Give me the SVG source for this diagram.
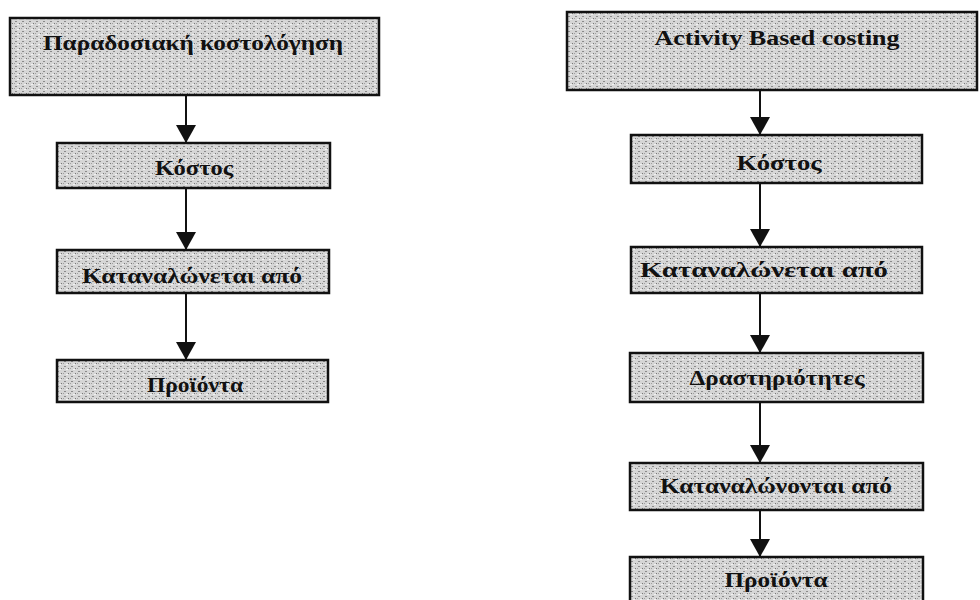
<svg xmlns="http://www.w3.org/2000/svg" width="980" height="600" viewBox="0 0 980 600">
<style>
.box{fill:url(#stip);stroke:#111;stroke-width:2.5}
.lbl{font-family:"Liberation Serif","Noto Serif",serif;font-size:21px;font-weight:bold;fill:#111;text-anchor:middle}
.con{stroke:#111;stroke-width:2;fill:none;marker-end:url(#ah)}
</style>
<defs>
<pattern id="stip" width="7" height="5" patternUnits="userSpaceOnUse">
<rect width="7" height="5" fill="#d6d6d6"/>
<rect x="1" y="1" width="2" height="1" fill="#8a8a8a"/>
<rect x="5" y="3" width="1" height="1" fill="#777"/>
<rect x="3" y="4" width="2" height="1" fill="#f2f2f2"/>
<rect x="0" y="3" width="1" height="1" fill="#a0a0a0"/>
</pattern>
<marker id="ah" markerWidth="10" markerHeight="9" refX="10" refY="4.5" orient="auto" markerUnits="userSpaceOnUse" viewBox="0 0 10 9">
<path d="M0,0 L10,4.5 L0,9 Z" fill="#111"/>
</marker>
<marker id="ahL" markerWidth="18" markerHeight="20" refX="18" refY="10" orient="auto" markerUnits="userSpaceOnUse" viewBox="0 0 18 20">
<path d="M0,0 L18,10 L0,20 Z" fill="#111"/>
</marker>
</defs>
<g id="connectors">
<line class="con" style="marker-end:url(#ahL)" x1="186" y1="95" x2="186" y2="143"/>
<line class="con" style="marker-end:url(#ahL)" x1="186" y1="188" x2="186" y2="250"/>
<line class="con" style="marker-end:url(#ahL)" x1="186" y1="293" x2="186" y2="360"/>
<line class="con" style="marker-end:url(#ahL)" x1="760" y1="90" x2="760" y2="135"/>
<line class="con" style="marker-end:url(#ahL)" x1="760" y1="183" x2="760" y2="247"/>
<line class="con" style="marker-end:url(#ahL)" x1="760" y1="293" x2="760" y2="353"/>
<line class="con" style="marker-end:url(#ahL)" x1="760" y1="402" x2="760" y2="463"/>
<line class="con" style="marker-end:url(#ahL)" x1="760" y1="510" x2="760" y2="557"/>
</g>
<g id="l1"><rect class="box" x="10" y="18" width="369" height="77"/><text class="lbl" x="193" y="50" textLength="300" lengthAdjust="spacingAndGlyphs">Παραδοσιακή κοστολόγηση</text></g>
<g id="l2"><rect class="box" x="57" y="143" width="273" height="45"/><text class="lbl" x="194" y="175" textLength="78" lengthAdjust="spacingAndGlyphs">Κόστος</text></g>
<g id="l3"><rect class="box" x="57" y="250" width="272" height="43"/><text class="lbl" x="192" y="283" textLength="220" lengthAdjust="spacingAndGlyphs">Καταναλώνεται από</text></g>
<g id="l4"><rect class="box" x="57" y="360" width="271" height="42"/><text class="lbl" x="195" y="392" textLength="96" lengthAdjust="spacingAndGlyphs">Προϊόντα</text></g>
<g id="r1"><rect class="box" x="567" y="12" width="410" height="78"/><text class="lbl" x="777" y="45" textLength="245" lengthAdjust="spacingAndGlyphs">Activity Based costing</text></g>
<g id="r2"><rect class="box" x="631" y="135" width="291" height="48"/><text class="lbl" x="779" y="170" textLength="85" lengthAdjust="spacingAndGlyphs">Κόστος</text></g>
<g id="r3"><rect class="box" x="631" y="247" width="291" height="46"/><text class="lbl" x="764" y="277" textLength="248" lengthAdjust="spacingAndGlyphs">Καταναλώνεται από</text></g>
<g id="r4"><rect class="box" x="630" y="353" width="293" height="49"/><text class="lbl" x="777" y="385" textLength="175" lengthAdjust="spacingAndGlyphs">Δραστηριότητες</text></g>
<g id="r5"><rect class="box" x="630" y="463" width="293" height="47"/><text class="lbl" x="776" y="493" textLength="232" lengthAdjust="spacingAndGlyphs">Καταναλώνονται από</text></g>
<g id="r6"><rect class="box" x="630" y="557" width="293" height="50"/><text class="lbl" x="776" y="587" textLength="103" lengthAdjust="spacingAndGlyphs">Προϊόντα</text></g>
</svg>
